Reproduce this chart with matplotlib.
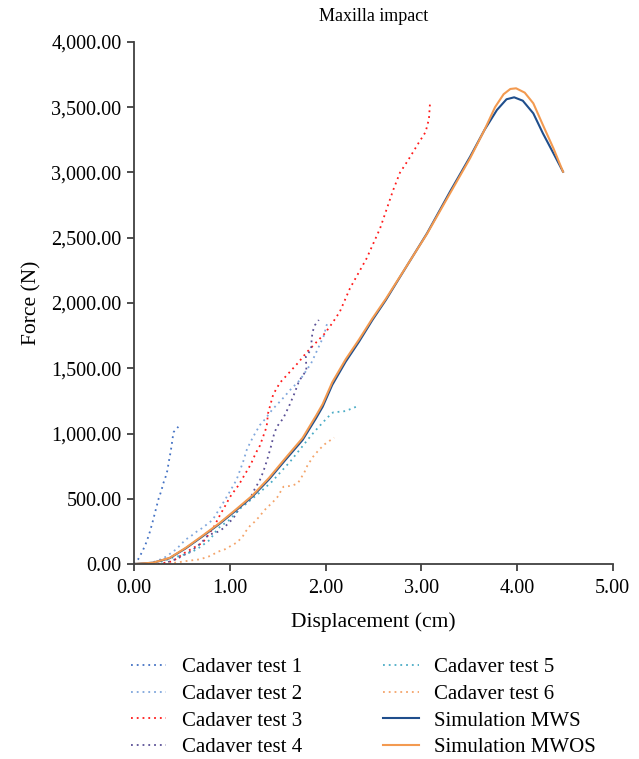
import matplotlib
matplotlib.use('Agg')
import matplotlib.pyplot as plt
from matplotlib.ticker import FuncFormatter, MultipleLocator

plt.rcParams['font.family'] = ['Liberation Serif', 'DejaVu Serif']

# cadaver tests (displacement cm, force N)
t1_x = [0.0, 0.045, 0.09, 0.132, 0.165, 0.195, 0.225, 0.258, 0.285, 0.306, 0.33, 0.348, 0.365, 0.383, 0.395, 0.404, 0.414, 0.463]
t1_y = [0, 38, 100, 171, 245, 324, 410, 503, 560, 618, 668, 715, 790, 861, 920, 968, 1011, 1052]

t2_x = [0.15, 0.26, 0.334, 0.445, 0.49, 0.543, 0.595, 0.654, 0.707, 0.82, 0.932, 1.0, 1.07, 1.14, 1.18, 1.245, 1.315, 1.37, 1.446, 1.54, 1.63, 1.733, 1.85, 1.93, 1.994, 2.0, 2.03]
t2_y = [0, 30, 56, 115, 151, 189, 214, 248, 273, 337, 470, 554, 644, 784, 881, 976, 1065, 1111, 1185, 1257, 1333, 1410, 1538, 1665, 1768, 1811, 1860]

t3_x = [0.25, 0.4, 0.532, 0.654, 0.717, 0.759, 0.835, 0.898, 0.967, 1.0, 1.04, 1.086, 1.12, 1.155, 1.19, 1.225, 1.25, 1.28, 1.315, 1.385, 1.40, 1.454, 1.524, 1.62, 1.715, 1.80, 1.85, 1.90, 1.994, 2.074, 2.15, 2.255, 2.43, 2.57, 2.707, 2.777, 2.864, 2.97, 3.045, 3.08, 3.09]
t3_y = [0, 20, 87, 138, 163, 205, 286, 375, 465, 511, 552, 598, 638, 684, 726, 772, 815, 861, 907, 1052, 1155, 1300, 1389, 1466, 1543, 1619, 1658, 1696, 1768, 1849, 1934, 2112, 2343, 2572, 2866, 2998, 3096, 3224, 3310, 3410, 3520]

t4_x = [0.3, 0.45, 0.6, 0.7, 0.776, 0.88, 0.932, 0.985, 1.037, 1.106, 1.2, 1.245, 1.315, 1.35, 1.39, 1.427, 1.46, 1.49, 1.558, 1.62, 1.673, 1.725, 1.767, 1.80, 1.795, 1.85, 1.855, 1.865, 1.89, 1.93]
t4_y = [0, 40, 100, 160, 222, 248, 273, 312, 350, 434, 478, 554, 644, 707, 797, 891, 988, 1050, 1116, 1211, 1303, 1405, 1448, 1487, 1589, 1645, 1722, 1780, 1831, 1870]

t5_x = [0.1, 0.3, 0.41, 0.49, 0.61, 0.67, 0.72, 0.79, 0.87, 0.9, 1.0, 1.1, 1.3, 1.44, 1.63, 1.84, 1.89, 1.98, 2.03, 2.08, 2.15, 2.21, 2.28, 2.34]
t5_y = [0, 20, 51, 64, 95, 120, 146, 184, 266, 286, 340, 420, 540, 631, 784, 976, 1019, 1091, 1129, 1162, 1167, 1172, 1193, 1211]

t6_x = [0.3, 0.45, 0.567, 0.69, 0.793, 0.88, 0.95, 1.01, 1.07, 1.13, 1.17, 1.21, 1.26, 1.315, 1.357, 1.40, 1.454, 1.496, 1.56, 1.65, 1.71, 1.778, 1.81, 1.87, 1.93, 1.99, 2.04, 2.09]
t6_y = [0, 12, 25, 36, 61, 95, 113, 138, 163, 205, 253, 291, 324, 368, 409, 439, 478, 511, 592, 600, 618, 700, 753, 822, 874, 917, 943, 968]

# simulations
mws_x = [0.0, 0.2, 0.37, 0.54, 0.71, 0.89, 1.06, 1.235, 1.41, 1.58, 1.76, 1.9, 1.97, 2.07, 2.21, 2.35, 2.49, 2.63, 2.78, 3.06, 3.30, 3.51, 3.66, 3.79, 3.89, 3.97, 4.06, 4.17, 4.27, 4.38, 4.48]
mws_y = [0, 10, 44, 120, 209, 306, 408, 516, 649, 797, 950, 1116, 1205, 1372, 1550, 1704, 1870, 2023, 2202, 2534, 2853, 3121, 3326, 3479, 3561, 3576, 3550, 3453, 3300, 3147, 3006]

mwos_x = [0.0, 0.2, 0.37, 0.54, 0.71, 0.89, 1.06, 1.235, 1.41, 1.58, 1.76, 1.9, 1.97, 2.07, 2.21, 2.35, 2.49, 2.63, 2.78, 3.06, 3.30, 3.51, 3.66, 3.77, 3.86, 3.93, 3.99, 4.08, 4.17, 4.27, 4.38, 4.48]
mwos_y = [0, 10, 46, 124, 214, 312, 415, 524, 660, 810, 965, 1135, 1225, 1392, 1568, 1720, 1882, 2032, 2205, 2530, 2840, 3110, 3326, 3500, 3600, 3640, 3645, 3612, 3530, 3364, 3185, 3006]

tests = [
    (t1_x, t1_y, 'Cadaver test 1', '#4472C4'),
    (t2_x, t2_y, 'Cadaver test 2', '#7FA6DC'),
    (t3_x, t3_y, 'Cadaver test 3', '#FF1A1A'),
    (t4_x, t4_y, 'Cadaver test 4', '#5A5096'),
    (t5_x, t5_y, 'Cadaver test 5', '#4BACC6'),
    (t6_x, t6_y, 'Cadaver test 6', '#F4A46A'),
]

fig = plt.figure(figsize=(6.39, 7.59), dpi=100)
ax = fig.add_axes([0.2097, 0.2569, 0.7493, 0.6878])

for xs, ys, lab, col in tests:
    ax.plot(xs, ys, color=col, linestyle=(0, (1, 2.2)), linewidth=1.3, label=lab)

ax.plot(mws_x, mws_y, color='#1F4E8C', linewidth=1.5, label='Simulation MWS')
ax.plot(mwos_x, mwos_y, color='#F39A50', linewidth=1.5, label='Simulation MWOS')

ax.set_xlim(0, 5)
ax.set_ylim(0, 4000)
ax.xaxis.set_major_locator(MultipleLocator(1))
ax.yaxis.set_major_locator(MultipleLocator(500))
ax.xaxis.set_major_formatter(FuncFormatter(lambda v, p: f'{v:,.2f}'))
ax.yaxis.set_major_formatter(FuncFormatter(lambda v, p: f'{v:,.2f}'))

for s in ['top', 'right']:
    ax.spines[s].set_visible(False)
for s in ['left', 'bottom']:
    ax.spines[s].set_color('#404040')
    ax.spines[s].set_linewidth(1.3)
ax.tick_params(direction='out', length=5, width=1.3, color='#404040', labelsize=14.5)
ax.tick_params(axis='x', pad=6)
ax.tick_params(axis='y', pad=4)

ax.set_title('Maxilla impact', fontsize=13, pad=15)
ax.set_xlabel('Displacement (cm)', fontsize=15.5, labelpad=10)
ax.set_ylabel('Force (N)', fontsize=15.5, labelpad=7)

fig.legend(loc='upper left', bbox_to_anchor=(0.175, 0.158), ncol=2, frameon=False,
           fontsize=15, handlelength=1.7, handletextpad=0.75, columnspacing=3.9,
           labelspacing=0.34)

fig.savefig('out.png', dpi=100)
